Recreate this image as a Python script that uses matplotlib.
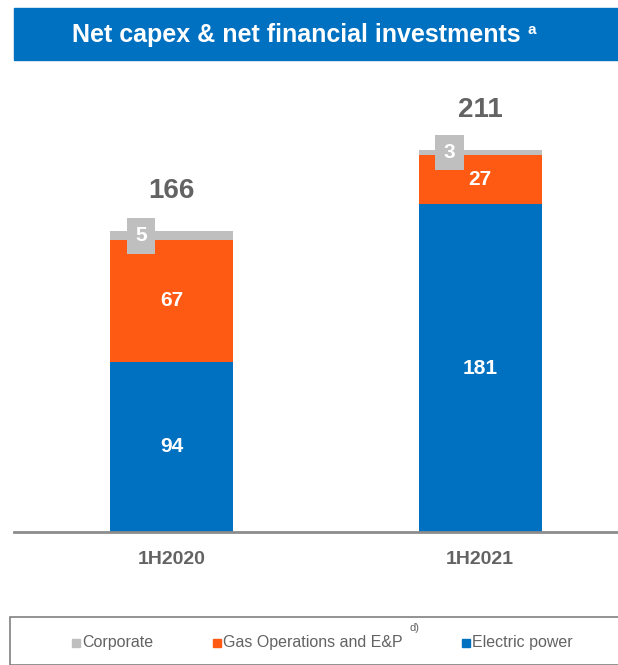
import matplotlib.pyplot as plt
from matplotlib.patches import Rectangle

plt.rcParams['font.family'] = ['Liberation Sans', 'DejaVu Sans']

# data
periods = ['1H2020', '1H2021']
electric = [94, 181]
gas = [67, 27]
corporate = [5, 3]
totals = [166, 211]

legend_labels = ['Corporate', 'Gas Operations and E&P', 'Electric power']

c_blue = '#0070C0'
c_orange = '#FF5A14'
c_gray = '#BFBFBF'
c_text = '#636363'

fig = plt.figure(figsize=(6.18, 6.65), dpi=100)
W, H = 618, 665

# title banner
fig.patches.append(Rectangle((14 / W, 1 - 60 / H), 1 - 14 / W, 52 / H,
                             transform=fig.transFigure, color=c_blue, zorder=0))
fig.text(296 / W, 1 - 35 / H, 'Net capex & net financial investments',
         color='white', fontsize=18, fontweight='bold', ha='center', va='center')
fig.text(528 / W, 1 - 30 / H, 'a', color='white', fontsize=11,
         fontweight='bold', ha='left', va='center')

# bars
ax = fig.add_axes([14 / W, 133 / H, 1 - 14 / W, 462 / H])
x = [0, 1]
width = 0.399
bottom_gas = electric
bottom_corp = [e + g for e, g in zip(electric, gas)]
ax.bar(x, electric, width, color=c_blue, zorder=2)
ax.bar(x, gas, width, bottom=bottom_gas, color=c_orange, zorder=2)
ax.bar(x, corporate, width, bottom=bottom_corp, color=c_gray, zorder=2)

for i in x:
    ax.text(i, electric[i] / 2, str(electric[i]), color='white', fontsize=15,
            fontweight='bold', ha='center', va='center')
    ax.text(i, electric[i] + gas[i] / 2, str(gas[i]), color='white', fontsize=15,
            fontweight='bold', ha='center', va='center')
    ax.text(i - width / 2 + 0.1, bottom_corp[i] + corporate[i] / 2, str(corporate[i]),
            color='white', fontsize=15, fontweight='bold', ha='center', va='center',
            bbox=dict(boxstyle='square,pad=0.4', fc=c_gray, ec='none'))
    ax.text(i, totals[i] + 22, str(totals[i]), color=c_text, fontsize=20,
            fontweight='bold', ha='center', va='center')

ax.set_xlim(-0.5105, 1.447)
ax.set_ylim(0, 255)
ax.set_xticks(x)
ax.set_xticklabels(periods, fontsize=14, fontweight='bold', color=c_text)
ax.tick_params(axis='x', length=0, pad=14)
ax.set_yticks([])
for s in ['top', 'right', 'left']:
    ax.spines[s].set_visible(False)
ax.spines['bottom'].set_color('#8C8C8C')
ax.spines['bottom'].set_linewidth(2)

# legend box
fig.patches.append(Rectangle((10 / W, 0), 1, 48 / H, transform=fig.transFigure,
                             fill=False, ec='#808080', lw=1.2))
leg_colors = [c_gray, c_orange, c_blue]
leg_x = [72, 213, 462]
for lab, col, lx in zip(legend_labels, leg_colors, leg_x):
    fig.patches.append(Rectangle((lx / W, 1 - 647 / H), 8 / W, 8 / H,
                                 transform=fig.transFigure, color=col))
    fig.text((lx + 10) / W, 1 - 642 / H, lab, color=c_text, fontsize=11.5,
             ha='left', va='center')
fig.text(410 / W, 1 - 628 / H, 'd)', color=c_text, fontsize=8, ha='left', va='center')

fig.savefig('out.png', dpi=100)
